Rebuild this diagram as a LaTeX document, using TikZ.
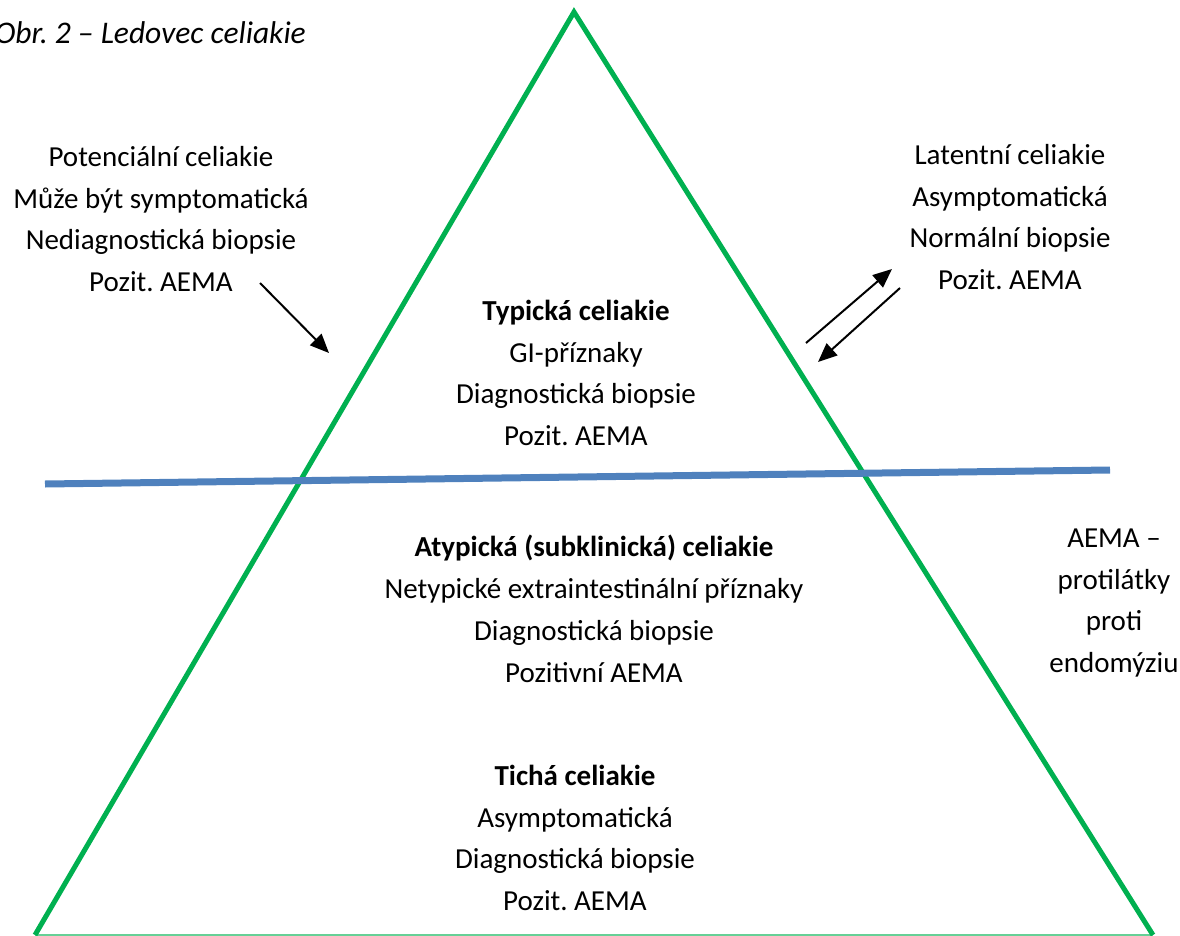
\documentclass[tikz,border=0pt]{standalone}
\usepackage{fontspec}
\setmainfont{Carlito}
\usetikzlibrary{arrows.meta}
\definecolor{tgreen}{HTML}{00B050}
\definecolor{tblue}{HTML}{4F81BD}
\frenchspacing
\begin{document}
\begin{tikzpicture}[x=1pt,y=-1pt,
  txt/.style={align=center,font=\fontsize{29}{41.8}\selectfont,inner sep=0pt},
  arr/.style={line width=2pt,-{Triangle[length=19pt,width=16pt]}},
  side/.style={tgreen,line width=5pt,line join=miter},
  base/.style={tgreen!60,line width=1.5pt},
  water/.style={tblue,line width=7pt}]
\useasboundingbox (0,0) rectangle (1180,936);
\coordinate (apex) at (574,12);
\coordinate (bl) at (35,935);
\coordinate (br) at (1153,935);
\coordinate (wl) at (45,484);
\coordinate (wr) at (1110,470);
\draw[base] (bl) -- (br);
\draw[side] (bl) -- (apex) -- (br);
\draw[water] (wl) -- (wr);

\node[font=\fontsize{31.5}{36}\selectfont\itshape,anchor=east,inner sep=0pt] (cap) at (306,33) {Obr. 2 – Ledovec celiakie};

\node[txt] (pot) at (161,219) {Potenciální celiakie\\Může být symptomatická\\Nediagnostická biopsie\\Pozit. AEMA};
\node[txt] (lat) at (1010,217) {Latentní celiakie\\Asymptomatická\\Normální biopsie\\Pozit. AEMA};
\node[txt] (typ) at (576,373) {\textbf{Typická celiakie}\\GI-příznaky\\Diagnostická biopsie\\Pozit. AEMA};
\node[txt] (atyp) at (594,609) {\textbf{Atypická (subklinická) celiakie}\\Netypické extraintestinální příznaky\\Diagnostická biopsie\\Pozitivní AEMA};
\node[txt] (tich) at (575,838) {\textbf{Tichá celiakie}\\Asymptomatická\\Diagnostická biopsie\\Pozit. AEMA};
\node[txt] (aema) at (1114,603) {AEMA –\\protilátky\\proti\\endomýziu};

\coordinate (a1s) at (260,283);
\coordinate (a1e) at (329,353);
\coordinate (a2s) at (806,343);
\coordinate (a2e) at (892,269);
\coordinate (a3s) at (900,288);
\coordinate (a3e) at (818,362);
\draw[arr] (a1s) -- (a1e);
\draw[arr] (a2s) -- (a2e);
\draw[arr] (a3s) -- (a3e);
\end{tikzpicture}
\end{document}
